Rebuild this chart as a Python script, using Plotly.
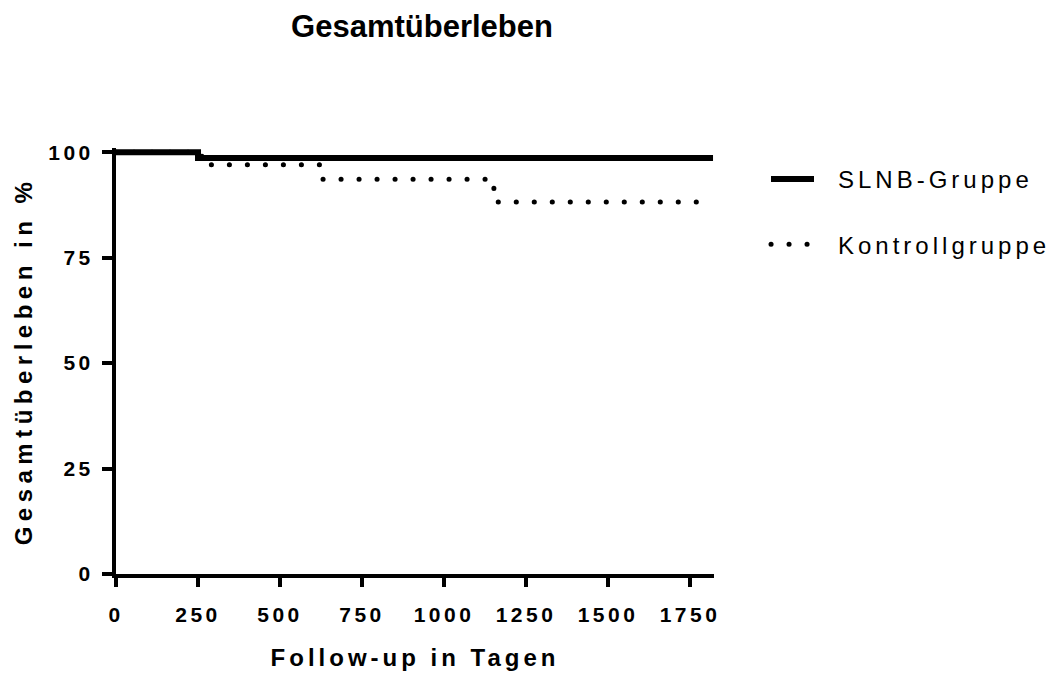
import plotly.graph_objects as go

# Data
slnb_days = [0, 250, 1820]
slnb_surv = [100, 98.6, 98.6]

ctrl_days = [0, 262, 622, 1152, 1778]
ctrl_surv = [100, 97.0, 93.6, 88.2, 88.2]

x_ticks = [0, 250, 500, 750, 1000, 1250, 1500, 1750]
y_ticks = [0, 25, 50, 75, 100]

FONT = "Arial, Liberation Sans, sans-serif"

fig = go.Figure()
# dotted group drawn first so the solid line sits on top where they overlap
fig.add_trace(go.Scatter(
    x=ctrl_days, y=ctrl_surv, mode="lines", name="Kontrollgruppe",
    line=dict(color="black", width=5, shape="hv", dash="0.1px,17.9px"),
    legendgroup="b", legendrank=2))
fig.add_trace(go.Scatter(
    x=slnb_days, y=slnb_surv, mode="lines", name="SLNB-Gruppe",
    line=dict(color="black", width=6, shape="hv"),
    legendgroup="a", legendrank=1))

fig.update_layout(
    width=1051, height=673,
    paper_bgcolor="white", plot_bgcolor="white",
    margin=dict(l=116, r=337, t=148, b=99, autoexpand=False),
    title=dict(text="<b>Gesamtüberleben</b>", x=422/1051, xanchor="center",
               y=1-26/673, yref="container", yanchor="middle",
               font=dict(family=FONT, size=31, color="black")),
    showlegend=True,
    legend=dict(x=(766-116)/598, xanchor="left", y=1-9/425, yanchor="top",
                font=dict(family=FONT, size=24, color="black"),
                itemwidth=43, tracegroupgap=31, bgcolor="rgba(0,0,0,0)"),
    xaxis=dict(range=[0, 1823], tickvals=x_ticks, showgrid=False, zeroline=False,
               automargin=False,
               showline=True, linewidth=4, linecolor="black",
               ticks="outside", ticklen=9, tickwidth=4, tickcolor="black",
               ticklabelstandoff=10,
               tickfont=dict(family=FONT, size=21, color="black", weight="bold"),
               title=dict(text="Follow-up in Tagen", standoff=25,
                          font=dict(family=FONT, size=24, color="black", weight="bold"))),
    yaxis=dict(range=[0, 101], tickvals=y_ticks, showgrid=False, zeroline=False,
               automargin=False,
               showline=True, linewidth=4, linecolor="black",
               ticks="outside", ticklen=10, tickwidth=4, tickcolor="black",
               ticklabelstandoff=4,
               tickfont=dict(family=FONT, size=21, color="black", weight="bold"),
               title=dict(text="Gesamtüberleben in %", standoff=20,
                          font=dict(family=FONT, size=24, color="black", weight="bold"))),
)

css_js = """
document.body.style.margin = '0';
var s = document.createElement('style');
s.innerHTML = '.xtick text, .ytick text {letter-spacing: 3.5px;}'
  + ' .xtitle {letter-spacing: 4px;} .ytitle {letter-spacing: 5.5px;}'
  + ' .legendtext {letter-spacing: 4px; transform: translate(19px, 0px);}'
  + ' .legend .scrollbox {clip-path: none !important;}'
  + ' path[style*="dasharray"] {stroke-linecap: round;}';
document.head.appendChild(s);
"""
fig.write_html("out.html", post_script=css_js, config={"displayModeBar": False})
